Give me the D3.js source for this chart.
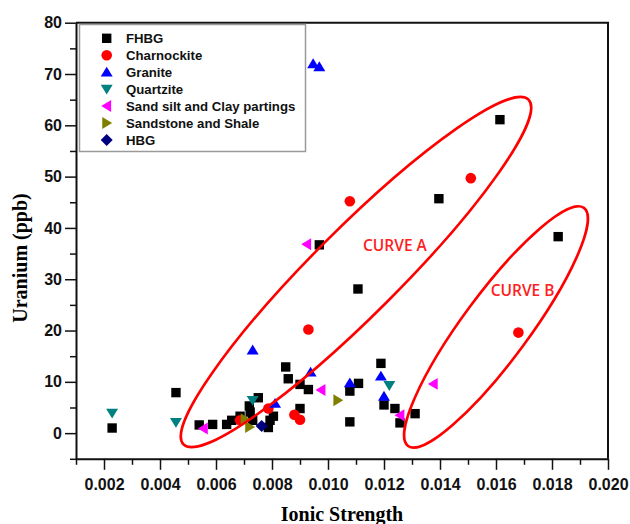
<!DOCTYPE html>
<html>
<head>
<meta charset="utf-8">
<script src="https://cdn.jsdelivr.net/npm/d3@7"></script>
<style>
  body { margin: 0; background: #fff; }
  svg { display: block; }
</style>
</head>
<body>
<div id="chart"></div>
<script>
// data: [ionic strength, uranium ppb]
const fhbg = [
  [0.00229, 1.0], [0.00457, 7.9], [0.00540, 1.6], [0.00588, 1.7], [0.00638, 1.7],
  [0.00656, 2.5], [0.00686, 3.3], [0.00719, 5.3], [0.00722, 4.1], [0.00731, 2.5],
  [0.00751, 6.9], [0.00787, 1.1], [0.00793, 2.5], [0.00805, 3.3], [0.00849, 12.9],
  [0.00858, 10.6], [0.00900, 9.5], [0.00930, 8.5], [0.00900, 4.8], [0.00969, 36.7],
  [0.01078, 2.2], [0.01078, 8.2], [0.01109, 9.7], [0.01107, 28.1], [0.01189, 13.6],
  [0.01200, 5.5], [0.01239, 4.8], [0.01257, 2.0], [0.01311, 3.8], [0.01396, 45.7],
  [0.01614, 61.1], [0.01822, 38.3]
];
const charnockite = [
  [0.00686, 2.5], [0.00787, 4.8], [0.00880, 3.6], [0.00900, 2.6], [0.00930, 20.2],
  [0.01078, 45.2], [0.01510, 49.7], [0.01680, 19.6]
];
const granite = [
  [0.00947, 72.0], [0.00969, 71.4], [0.00731, 16.2], [0.00811, 5.8], [0.00938, 11.9],
  [0.01078, 9.8], [0.01189, 11.1], [0.01200, 7.2]
];
const quartzite = [[0.00229, 3.9], [0.00457, 2.1], [0.00731, 6.4], [0.01219, 9.3]];
const sandSilt = [[0.00555, 0.9], [0.00924, 36.8], [0.00975, 8.4], [0.01257, 3.5], [0.01376, 9.6]];
const sandstone = [[0.00704, 2.7], [0.00720, 1.2], [0.01035, 6.4]];
const hbg = [[0.00763, 1.4]];

const seriesNames = ["FHBG", "Charnockite", "Granite", "Quartzite",
  "Sand silt and Clay partings", "Sandstone and Shale", "HBG"];

const xTickValues = [0.002, 0.004, 0.006, 0.008, 0.010, 0.012, 0.014, 0.016, 0.018, 0.020];
const xMinorValues = [0.001, 0.003, 0.005, 0.007, 0.009, 0.011, 0.013, 0.015, 0.017, 0.019];
const yTickValues = [0, 10, 20, 30, 40, 50, 60, 70, 80];
const yMinorValues = [-5, 5, 15, 25, 35, 45, 55, 65, 75];

// ellipses given by their two tips (data units)
const curves = [
  { label: "CURVE A", tips: [[0.00484, -2.2], [0.01716, 65.0]], labelAt: [0.01239, 36.6] },
  { label: "CURVE B", tips: [[0.01286, -2.5], [0.01914, 43.9]], labelAt: [0.01695, 27.9] }
];

const width = 630, height = 524;
const plotLeft = 76, plotRight = 608, plotTop = 22.7, plotBottom = 458.8;

const svg = d3.select("#chart").append("svg")
  .attr("width", width)
  .attr("height", height);

const x = d3.scaleLinear().domain([0.001, 0.020]).range([plotLeft, plotRight]);
const y = d3.scaleLinear().domain([-5, 80]).range([plotBottom, plotTop]);

// frame top / right
svg.append("path")
  .attr("d", `M${plotLeft},${plotTop}H${plotRight}V${plotBottom}`)
  .attr("fill", "none")
  .attr("stroke", "#111")
  .attr("stroke-width", 2);

// minor ticks
svg.append("g")
  .attr("transform", `translate(0,${plotBottom})`)
  .call(d3.axisBottom(x).tickValues(xMinorValues).tickSize(6).tickFormat(""))
  .call(g => g.select(".domain").remove())
  .call(g => g.selectAll("line").attr("stroke", "#111").attr("stroke-width", 1.5));
svg.append("g")
  .attr("transform", `translate(${plotLeft},0)`)
  .call(d3.axisLeft(y).tickValues(yMinorValues).tickSize(6).tickFormat(""))
  .call(g => g.select(".domain").remove())
  .call(g => g.selectAll("line").attr("stroke", "#111").attr("stroke-width", 1.5));

// major axes
const xAxis = svg.append("g")
  .attr("transform", `translate(0,${plotBottom})`)
  .call(d3.axisBottom(x).tickValues(xTickValues).tickSize(11).tickSizeOuter(0)
    .tickPadding(9).tickFormat(d3.format(".3f")));
const yAxis = svg.append("g")
  .attr("transform", `translate(${plotLeft},0)`)
  .call(d3.axisLeft(y).tickValues(yTickValues).tickSize(11).tickSizeOuter(0)
    .tickPadding(3).tickFormat(d3.format("d")));

[xAxis, yAxis].forEach(g => {
  g.select(".domain").attr("stroke", "#111").attr("stroke-width", 2);
  g.selectAll(".tick line").attr("stroke", "#111").attr("stroke-width", 1.5);
  g.selectAll(".tick text")
    .attr("fill", "#111")
    .style("font-family", "Arial, 'Liberation Sans', sans-serif")
    .style("font-weight", "bold")
    .style("font-size", "16px");
});

// axis titles
svg.append("text")
  .attr("x", (plotLeft + plotRight) / 2)
  .attr("y", 521)
  .attr("text-anchor", "middle")
  .style("font-family", "'Times New Roman', 'Liberation Serif', serif")
  .style("font-weight", "bold")
  .style("font-size", "20px")
  .text("Ionic Strength");

svg.append("text")
  .attr("transform", `translate(27,258) rotate(-90)`)
  .attr("text-anchor", "middle")
  .style("font-family", "'Times New Roman', 'Liberation Serif', serif")
  .style("font-weight", "bold")
  .style("font-size", "20px")
  .text("Uranium (ppb)");

// marker shapes
const shapes = {
  square: s => `M${-s},${-s}h${2 * s}v${2 * s}h${-2 * s}Z`,
  circle: s => `M${s},0A${s},${s} 0 1,1 ${-s},0A${s},${s} 0 1,1 ${s},0Z`,
  up: s => `M0,${-s * 1.05}L${s * 1.15},${s * 0.85}L${-s * 1.15},${s * 0.85}Z`,
  down: s => `M0,${s * 1.05}L${s * 1.15},${-s * 0.85}L${-s * 1.15},${-s * 0.85}Z`,
  left: s => `M${-s * 1.05},0L${s * 0.85},${s * 1.15}L${s * 0.85},${-s * 1.15}Z`,
  right: s => `M${s * 1.05},0L${-s * 0.85},${s * 1.15}L${-s * 0.85},${-s * 1.15}Z`,
  diamond: s => `M0,${-s * 1.3}L${s * 1.3},0L0,${s * 1.3}L${-s * 1.3},0Z`
};

const series = [
  { data: fhbg, shape: "square", size: 4.7, color: "#000000" },
  { data: charnockite, shape: "circle", size: 5.3, color: "#ff0000" },
  { data: granite, shape: "up", size: 5.2, color: "#0000ff" },
  { data: quartzite, shape: "down", size: 5.2, color: "#008080" },
  { data: sandSilt, shape: "left", size: 5.2, color: "#ff00ff" },
  { data: sandstone, shape: "right", size: 5.2, color: "#808000" },
  { data: hbg, shape: "diamond", size: 4.6, color: "#000080" }
];

series.forEach(s => {
  svg.append("g").selectAll("path")
    .data(s.data)
    .join("path")
    .attr("transform", d => `translate(${x(d[0])},${y(d[1])})`)
    .attr("d", shapes[s.shape](s.size))
    .attr("fill", s.color);
});

// red ellipses
const halfWidths = [43, 33];
curves.forEach((c, i) => {
  const p1 = [x(c.tips[0][0]), y(c.tips[0][1])];
  const p2 = [x(c.tips[1][0]), y(c.tips[1][1])];
  const cx = (p1[0] + p2[0]) / 2, cy = (p1[1] + p2[1]) / 2;
  const a = Math.hypot(p2[0] - p1[0], p2[1] - p1[1]) / 2;
  const ang = Math.atan2(p2[1] - p1[1], p2[0] - p1[0]) * 180 / Math.PI;
  svg.append("ellipse")
    .attr("cx", 0).attr("cy", 0)
    .attr("rx", a).attr("ry", halfWidths[i])
    .attr("transform", `translate(${cx},${cy}) rotate(${ang})`)
    .attr("fill", "none")
    .attr("stroke", "#ff0000")
    .attr("stroke-width", 2.6);
  svg.append("text")
    .attr("x", x(c.labelAt[0]))
    .attr("y", y(c.labelAt[1]) + 5.5)
    .attr("text-anchor", "middle")
    .attr("fill", "#ff2020")
    .style("font-family", "'Open Sans', 'Liberation Sans', sans-serif")
    .style("font-weight", "600")
    .style("font-size", "15.5px")
    .text(c.label);
});

// legend
const legend = svg.append("g");
legend.append("rect")
  .attr("x", 79.5).attr("y", 24.5)
  .attr("width", 226).attr("height", 127)
  .attr("fill", "#fff")
  .attr("stroke", "#9a9a9a")
  .attr("stroke-width", 1.5);

series.forEach((s, i) => {
  const ly = 38.3 + i * 16.95;
  legend.append("path")
    .attr("transform", `translate(106.7,${ly})`)
    .attr("d", shapes[s.shape](s.size))
    .attr("fill", s.color);
  legend.append("text")
    .attr("x", 126)
    .attr("y", ly + 4.6)
    .style("font-family", "Arial, 'Liberation Sans', sans-serif")
    .style("font-weight", "bold")
    .style("font-size", "13.2px")
    .attr("fill", "#111")
    .text(seriesNames[i]);
});
</script>
</body>
</html>
